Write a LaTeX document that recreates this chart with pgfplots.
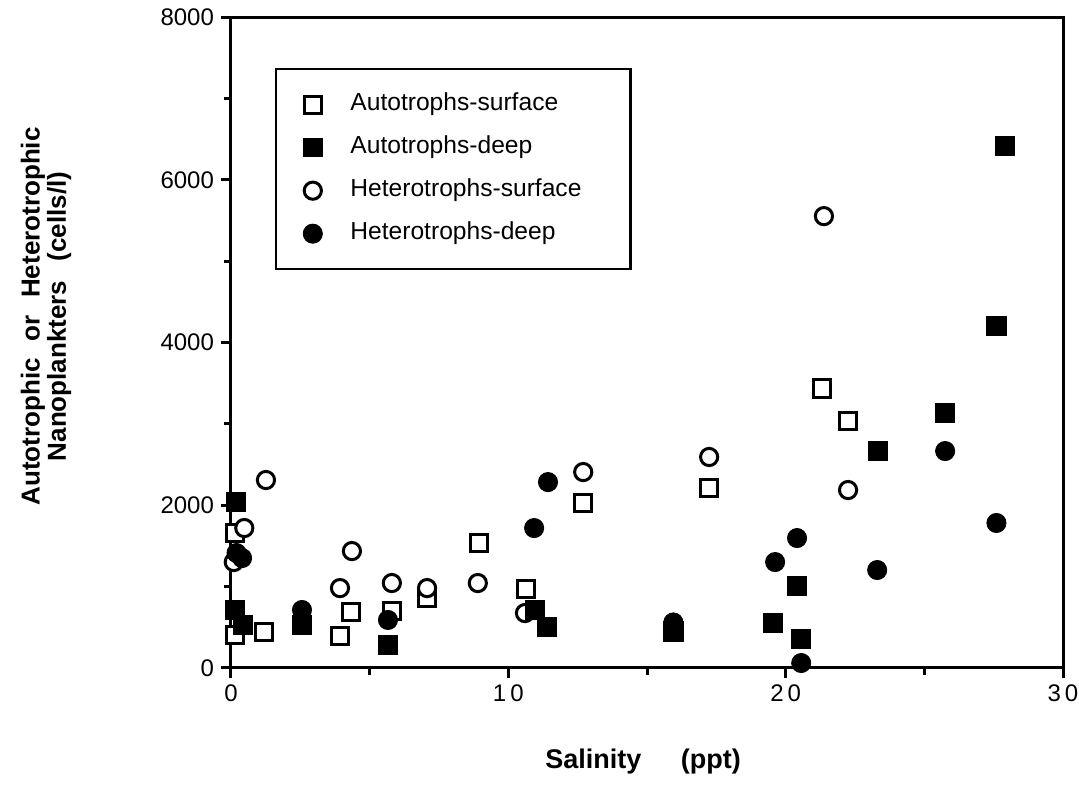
\documentclass[border=0pt]{standalone}
\usepackage{fontspec}
\setmainfont{Liberation Sans}
\usepackage{pgfplots}
\pgfplotsset{compat=1.18}

% Nanoplankter counts against salinity
\pgfplotstableread{
x y
0.14 1660
0.14 405
1.2 440
3.93 393
4.33 688
5.8 700
7.07 860
8.95 1536
10.64 970
12.7 2027
17.24 2212
21.3 3435
22.25 3035
}\autosurf
\pgfplotstableread{
x y
0.18 2040
0.14 713
0.43 528
2.56 528
5.66 283
10.96 713
11.4 504
15.95 450
19.55 553
20.4 1008
20.56 356
23.33 2666
25.75 3133
27.6 4200
27.9 6417
}\autodeep
\pgfplotstableread{
x y
0.1 1302
0.48 1720
1.26 2310
3.93 982
4.36 1437
5.8 1044
7.07 982
8.9 1044
10.6 675
12.7 2408
17.24 2593
21.38 5553
22.25 2187
}\hetsurf
\pgfplotstableread{
x y
0.2 1413
0.4 1351
2.56 713
5.66 590
10.93 1720
11.43 2285
15.95 560
19.62 1302
20.41 1597
20.56 61
23.3 1204
25.75 2666
27.6 1782
}\hetdeep

\begin{document}
\begin{tikzpicture}
\useasboundingbox (-115.5pt,-61pt) rectangle (424pt,334pt);
\begin{axis}[
  at={(0,0)}, anchor=south west,
  scale only axis, width=416pt, height=325.5pt,
  xmin=0, xmax=30, ymin=0, ymax=8000,
  xtick={0,10,20,30}, minor xtick={5,15,25},
  xticklabels={0,1\kern2pt0,2\kern2pt0,3\kern2pt0},
  ytick={0,2000,4000,6000,8000}, minor ytick={1000,3000,5000,7000},
  tick align=outside, xtick pos=bottom, ytick pos=left,
  major tick length=5pt, minor tick length=3.5pt,
  axis line style={line width=1.5pt},
  every tick/.style={line width=1.5pt, black},
  /pgf/number format/assume math mode=true,
  /pgf/number format/1000 sep={},
  ticklabel style={font=\fontsize{12}{14}\selectfont},
  xlabel={Salinity\hspace{16pt} (ppt)},
  xlabel style={font=\fontsize{13.5}{15}\selectfont\bfseries,
    at={(axis description cs:0.5,0)}, anchor=center, xshift=-2pt, yshift=-47pt},
  ylabel={Autotrophic\hspace{5pt} or\hspace{5pt} Heterotrophic\\Nanoplankters\hspace{6pt} (cells/l)},
  ylabel style={font=\fontsize{13}{12}\selectfont\bfseries, align=center,
    at={(axis description cs:0,0.5)}, anchor=center, xshift=13pt, yshift=92.5pt},
  legend image code/.code={\draw[#1] plot coordinates {(0pt,0pt)};},
  legend style={at={(axis description cs:0.0529,0.9217)}, anchor=north west,
    draw=black, line width=1.2pt,
    font=\fontsize{12.3}{14}\selectfont,
    inner xsep=13.5pt, inner ysep=11.75pt, row sep=9.5pt,
    nodes={inner sep=0pt, text height=9pt, text depth=3pt},
    cells={anchor=west},
    /tikz/every odd column/.append style={column sep=14pt},
    /tikz/every even column/.append style={nodes={text width=126.5pt}}},
]
% legend entries in reading order
\addlegendimage{only marks, mark=square*, mark size=4.2pt, mark options={fill=white, draw=black, line width=1.5pt}}
\addlegendentry{Autotrophs-surface}
\addlegendimage{only marks, mark=square*, mark size=4.6pt, mark options={fill=black, draw=black, line width=0.6pt}}
\addlegendentry{Autotrophs-deep}
\addlegendimage{only marks, mark=*, mark size=4.3pt, mark options={fill=white, draw=black, line width=1.5pt}}
\addlegendentry{Heterotrophs-surface}
\addlegendimage{only marks, mark=*, mark size=4.8pt, mark options={fill=black, draw=black, line width=0.4pt}}
\addlegendentry{Heterotrophs-deep}

% open symbols first, filled symbols on top
\addplot[forget plot, only marks, mark=square*, mark size=4.3pt,
  mark options={fill=white, draw=black, line width=1.5pt}] table {\autosurf};
\addplot[forget plot, only marks, mark=*, mark size=4.3pt,
  mark options={fill=white, draw=black, line width=1.5pt}] table {\hetsurf};
\addplot[forget plot, only marks, mark=square*, mark size=4.8pt,
  mark options={fill=black, draw=black, line width=0.6pt}] table {\autodeep};
\addplot[forget plot, only marks, mark=*, mark size=4.8pt,
  mark options={fill=black, draw=black, line width=0.4pt}] table {\hetdeep};
\end{axis}
\end{tikzpicture}
\end{document}
